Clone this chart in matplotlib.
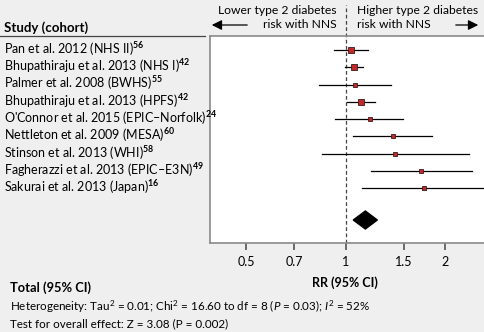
import matplotlib
matplotlib.use("Agg")
import matplotlib.pyplot as plt

# Lato is close to the narrow humanist face of the original
plt.rcParams["font.family"] = ["Lato", "DejaVu Sans"]
plt.rcParams["mathtext.fontset"] = "custom"
plt.rcParams["mathtext.rm"] = "Lato"
plt.rcParams["mathtext.it"] = "Lato:italic"
plt.rcParams["mathtext.bf"] = "Lato:bold"

### Data
studies = ["Pan et al. 2012 (NHS II)",
           "Bhupathiraju et al. 2013 (NHS I)",
           "Palmer et al. 2008 (BWHS)",
           "Bhupathiraju et al. 2013 (HPFS)",
           "O'Connor et al. 2015 (EPIC\u2013Norfolk)",
           "Nettleton et al. 2009 (MESA)",
           "Stinson et al. 2013 (WHI)",
           "Fagherazzi et al. 2013 (EPIC\u2013E3N)",
           "Sakurai et al. 2013 (Japan)"]
refs    = ["56", "42", "55", "42", "24", "60", "58", "49", "16"]
rr      = [1.036, 1.057, 1.067, 1.11, 1.183, 1.389, 1.412, 1.69, 1.725]
ci_low  = [0.92, 0.993, 0.83, 1.012, 0.932, 1.05, 0.846, 1.19, 1.118]
ci_high = [1.17, 1.126, 1.377, 1.228, 1.497, 1.82, 2.36, 2.41, 2.75]
weights = [15, 20, 6, 17, 9, 9, 5, 8, 7]
total_rr, total_low, total_high = 1.148, 1.055, 1.248
xticks = [0.5, 0.7, 1, 1.5, 2]

bg = "#efefef"
W, H = 484, 332
fig = plt.figure(figsize=(W/100, H/100), dpi=100, facecolor=bg)

def fx(px): return px / W
def fy(py): return 1 - py / H

### Forest axes
ax = fig.add_axes([fx(210), fy(243), fx(W + 2) - fx(210), fy(36) - fy(243)])
ax.set_facecolor("white")
ax.set_xscale("log")
ax.set_xlim(0.389, 2.66)
ax.set_ylim(11.16, -0.81)
ax.spines["right"].set_visible(False)
for s in ["left", "bottom", "top"]:
    ax.spines[s].set_color("#8a8a8a")
    ax.spines[s].set_linewidth(1.2)
ax.set_xticks(xticks)
ax.set_xticklabels([str(t) for t in xticks])
ax.minorticks_off()
ax.tick_params(axis="x", direction="out", length=5, width=1.2, color="#555555",
               labelsize=9, pad=4)
ax.set_yticks([])

ys = list(range(len(studies)))
for i in ys:
    ax.plot([ci_low[i], ci_high[i]], [i, i], color="black", lw=0.9, zorder=2)
    ax.plot(rr[i], i, marker="s", ms=1.05 * weights[i] ** 0.5, mfc="#c0282a",
            mec="#3a1a1a", mew=0.6, zorder=3)

yd = 9.83
ax.fill([total_low, total_rr, total_high, total_rr], [yd, yd - 0.52, yd, yd + 0.52],
        color="black", zorder=3)

ax.axvline(1, ymin=0, ymax=1.15, color="#444444", lw=0.9, ls=(0, (3, 2)),
           clip_on=False, zorder=1)

### Header arrows
hs = 8.7
fig.text(fx(337), fy(10), "Lower type 2 diabetes", ha="right", va="center", fontsize=hs)
fig.text(fx(337), fy(25), "risk with NNS", ha="right", va="center", fontsize=hs)
fig.text(fx(357), fy(10), "Higher type 2 diabetes", ha="left", va="center", fontsize=hs)
fig.text(fx(357), fy(25), "risk with NNS", ha="left", va="center", fontsize=hs)
fig.add_artist(matplotlib.patches.FancyArrowPatch((fx(250), fy(25)), (fx(209), fy(25)),
               transform=fig.transFigure, arrowstyle="-|>,head_length=4,head_width=2",
               color="black", lw=0.9, mutation_scale=1.5))
fig.add_artist(matplotlib.patches.FancyArrowPatch((fx(453), fy(25)), (fx(481), fy(25)),
               transform=fig.transFigure, arrowstyle="-|>,head_length=4,head_width=2",
               color="black", lw=0.9, mutation_scale=1.5))

### Left study column
fig.text(fx(4), fy(32), "Study (cohort)", ha="left", va="baseline", fontsize=9.5,
         fontweight="bold")
fig.add_artist(plt.Line2D([0, fx(205)], [fy(36), fy(36)], color="#444444", lw=0.9))
for i, name in enumerate(studies):
    fig.text(fx(4), fy(53.5 + 17.35 * i), name + r"$^{\mathbf{" + refs[i] + "}}$",
             ha="left", va="baseline", fontsize=9)

### Footer
fs = 8.4
fig.text(fx(345), fy(283), "RR (95% CI)", ha="center", va="center", fontsize=9,
         fontweight="bold")
fig.text(fx(10), fy(288), "Total (95% CI)", ha="left", va="center", fontsize=9.3,
         fontweight="bold")
fig.text(fx(10), fy(310.5),
         "Heterogeneity: Tau$^2$ = 0.01; Chi$^2$ = 16.60 to df = 8 ($P$ = 0.03); $I^2$ = 52%",
         ha="left", va="baseline", fontsize=fs)
fig.text(fx(10), fy(327.5), "Test for overall effect: Z = 3.08 (P = 0.002)",
         ha="left", va="baseline", fontsize=fs)

fig.savefig("out.png", dpi=100, facecolor=bg)
